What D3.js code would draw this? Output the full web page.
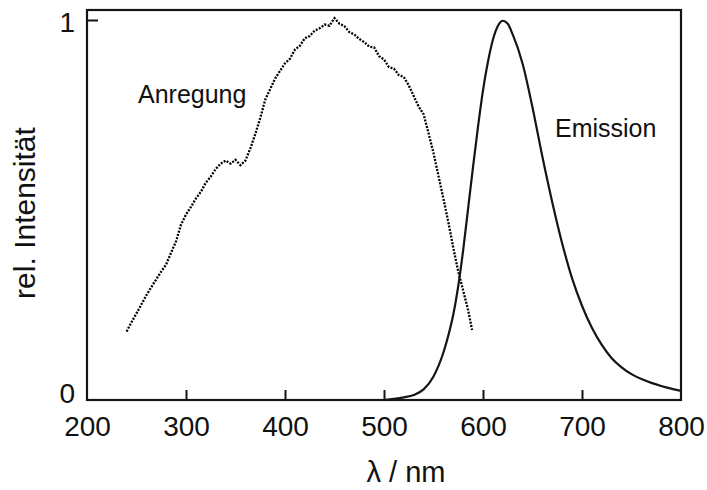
<!DOCTYPE html>
<html>
<head>
<meta charset="utf-8">
<script src="https://cdn.jsdelivr.net/npm/d3@7/dist/d3.min.js"></script>
<style>
  html, body { margin: 0; padding: 0; background: #fff; }
  svg { display: block; }
  text { font-family: "Liberation Sans", Arial, Helvetica, sans-serif; fill: #111; }
</style>
</head>
<body>
<svg id="chart" width="707" height="490"></svg>
<script>
// Excitation spectrum (Anregung), wavelength in nm and relative intensity
const excWavelength = [
  240, 245, 250, 255, 260, 265, 270, 275, 280, 285,
  290, 295, 300, 305, 310, 315, 320, 325, 330, 335,
  340, 345, 350, 355, 360, 365, 370, 375, 380, 385,
  390, 395, 400, 405, 410, 415, 420, 425, 430, 435,
  440, 445, 450, 455, 460, 465, 470, 475, 480, 485,
  490, 495, 500, 505, 510, 515, 520, 525, 530, 535,
  540, 545, 550, 555, 560, 565, 570, 575, 580, 585, 589
];
const excIntensity = [
  0.180, 0.205, 0.228, 0.252, 0.276, 0.297, 0.318, 0.338, 0.357, 0.388,
  0.418, 0.462, 0.488, 0.508, 0.530, 0.548, 0.572, 0.588, 0.608, 0.622,
  0.630, 0.622, 0.632, 0.618, 0.630, 0.662, 0.700, 0.742, 0.790, 0.818,
  0.846, 0.866, 0.886, 0.898, 0.922, 0.932, 0.952, 0.958, 0.972, 0.978,
  0.988, 0.985, 1.005, 0.990, 0.984, 0.968, 0.962, 0.950, 0.942, 0.930,
  0.928, 0.905, 0.896, 0.876, 0.872, 0.855, 0.850, 0.828, 0.800, 0.772,
  0.752, 0.702, 0.650, 0.590, 0.530, 0.468, 0.400, 0.338, 0.288, 0.236, 0.184
];

// Emission spectrum (Emission)
const emWavelength = [
  500, 510, 520, 530, 540, 550, 560, 565, 570, 575,
  580, 585, 590, 595, 600, 605, 610, 615, 620, 625,
  630, 640, 650, 660, 670, 680, 690, 700, 710, 720,
  730, 740, 750, 760, 770, 780, 790, 800
];
const emIntensity = [
  0.000, 0.003, 0.007, 0.013, 0.028, 0.062, 0.125, 0.170, 0.225, 0.300,
  0.395, 0.505, 0.615, 0.720, 0.815, 0.890, 0.948, 0.984, 0.998, 0.990,
  0.962, 0.885, 0.770, 0.640, 0.520, 0.412, 0.320, 0.248, 0.190, 0.145,
  0.110, 0.086, 0.068, 0.055, 0.045, 0.037, 0.030, 0.024
];

// Axis ticks and labels
const xTickValues = [200, 300, 400, 500, 600, 700, 800];
const yTickValues = [0, 1];
const xTitle = "λ / nm";
const yTitle = "rel. Intensität";
const excLabel = "Anregung";
const emLabel = "Emission";

const svg = d3.select("#chart");
const plot = { left: 87, right: 681, top: 10, bottom: 400 };

const x = d3.scaleLinear().domain([200, 800]).range([plot.left, plot.right]);
const y = d3.scaleLinear().domain([0, 1]).range([plot.bottom, 20]);

const ink = "#151515";

// Bottom axis: inward ticks, labels below
const xAxis = d3.axisBottom(x)
  .tickValues(xTickValues)
  .tickSizeInner(-10)
  .tickSizeOuter(0)
  .tickPadding(16)
  .tickFormat(d3.format("d"));
const gx = svg.append("g")
  .attr("transform", `translate(0,${plot.bottom})`)
  .call(xAxis);
gx.select(".domain").remove();
gx.selectAll(".tick line")
  .attr("stroke", ink).attr("stroke-width", 2)
  .attr("display", d => (d === 200 || d === 800) ? "none" : null);
gx.selectAll(".tick text")
  .attr("font-size", 28).attr("fill", ink)
  .attr("dy", "0.71em").attr("y", 16);

// Left axis: inward tick at 1, labels 0 and 1
const yAxis = d3.axisLeft(y)
  .tickValues(yTickValues)
  .tickSizeInner(-11)
  .tickSizeOuter(0)
  .tickPadding(12)
  .tickFormat(d3.format("d"));
const gy = svg.append("g")
  .attr("transform", `translate(${plot.left},0)`)
  .call(yAxis);
gy.select(".domain").remove();
gy.selectAll(".tick line")
  .attr("stroke", ink).attr("stroke-width", 2)
  .attr("display", d => d === 0 ? "none" : null);
gy.selectAll(".tick text")
  .attr("font-size", 28).attr("fill", ink)
  .attr("dy", d => d === 0 ? "0.08em" : "0.4em")
  .attr("x", -12);

// Frame around the plot area
svg.append("rect")
  .attr("x", plot.left).attr("y", plot.top)
  .attr("width", plot.right - plot.left)
  .attr("height", plot.bottom - plot.top)
  .attr("fill", "none")
  .attr("stroke", ink)
  .attr("stroke-width", 2.2);

const line = d3.line().x(d => x(d[0])).y(d => y(d[1]));

// Excitation: dotted trace
svg.append("path")
  .datum(d3.zip(excWavelength, excIntensity))
  .attr("d", line)
  .attr("fill", "none")
  .attr("stroke", "#000")
  .attr("stroke-width", 2.3)
  .attr("stroke-dasharray", "2,1.4");

// Emission: solid trace
svg.append("path")
  .datum(d3.zip(emWavelength, emIntensity))
  .attr("d", line.curve(d3.curveMonotoneX))
  .attr("fill", "none")
  .attr("stroke", ink)
  .attr("stroke-width", 2.2);

// Series labels
svg.append("text")
  .attr("x", 138).attr("y", 103)
  .attr("font-size", 25)
  .text(excLabel);
svg.append("text")
  .attr("x", 555).attr("y", 137)
  .attr("font-size", 25)
  .text(emLabel);

// Axis titles
svg.append("text")
  .attr("x", 406).attr("y", 482)
  .attr("text-anchor", "middle")
  .attr("font-size", 29)
  .text(xTitle);
svg.append("text")
  .attr("transform", `translate(35,213) rotate(-90)`)
  .attr("text-anchor", "middle")
  .attr("font-size", 30)
  .text(yTitle);
</script>
</body>
</html>
